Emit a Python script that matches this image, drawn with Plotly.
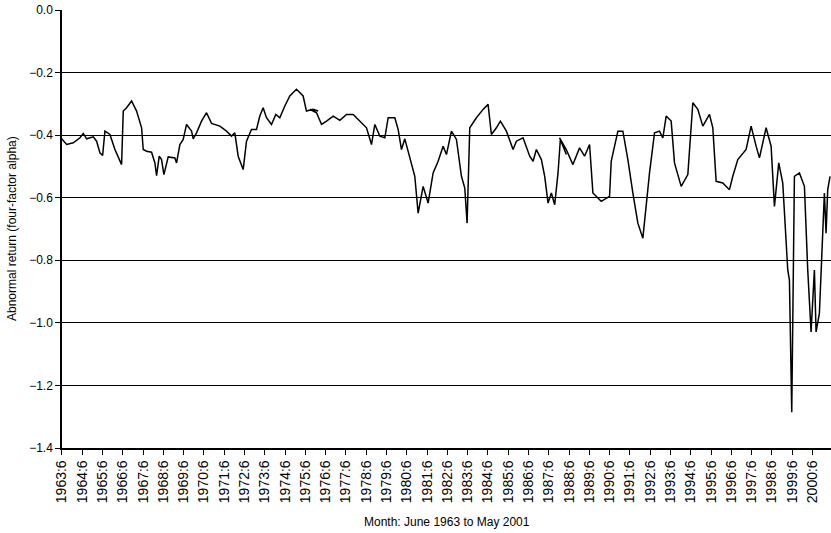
import plotly.graph_objects as go

# (pixel-read points) segment start year, x offset in zoom px, value
seg1_x = [0, 20, 40, 60, 70, 80, 100, 110, 120, 128, 135, 150, 165, 175, 185, 190, 200, 215, 230, 245,
          250, 260, 275, 285, 290, 298, 305, 312, 325, 345, 350, 360, 370, 380, 395, 400, 410, 425, 440, 455,
          480, 500, 515, 525, 535, 550, 560, 575, 590, 600, 610, 620, 635, 648, 660, 675, 690, 710, 730, 740,
          760, 775]
seg1_y = [262, 285, 280, 265, 252, 268, 262, 275, 310, 318, 245, 255, 300, 320, 345, 185, 175, 155, 185, 235,
          300, 305, 308, 340, 378, 320, 330, 375, 322, 325, 340, 285, 270, 225, 245, 268, 250, 215, 190, 222,
          230, 245, 260, 250, 320, 360, 275, 240, 240, 200, 175, 205, 225, 195, 205, 170, 140, 120, 140, 185,
          180, 185]
seg2_x = [0, 20, 35, 50, 70, 90, 110, 130, 150, 170, 185, 195, 210, 225, 235, 255, 265, 275, 285, 300,
          315, 325, 340, 355, 370, 385, 400, 410, 425, 440, 455, 465, 472, 480, 500, 520, 535, 545, 560, 572,
          590, 610, 620, 640, 660, 670, 680, 695, 705, 715, 725, 735, 745, 752, 770]
seg2_y = [180, 190, 225, 215, 200, 213, 195, 195, 215, 235, 285, 225, 260, 265, 205, 205, 240, 300, 268, 320,
          380, 490, 410, 460, 370, 335, 290, 315, 245, 270, 380, 415, 520, 235, 205, 180, 165, 255, 235, 215,
          245, 300, 275, 265, 320, 335, 300, 330, 380, 460, 430, 465, 370, 270, 315]
seg3_x = [0, 20, 40, 60, 75, 90, 100, 125, 150, 155, 175, 190, 205, 220, 235, 250, 270, 285, 300, 310,
          320, 335, 345, 365, 385, 400, 415, 430, 450, 460, 470, 490, 510, 520, 535, 560, 575, 590, 600, 620,
          635, 645, 658, 670, 685, 690, 697, 705, 720, 735, 745, 755, 765, 770, 780, 795, 800, 805, 812]
seg3_y = [265, 300, 345, 295, 320, 285, 430, 455, 440, 335, 245, 245, 330, 430, 520, 565, 370, 250, 245, 265,
          200, 215, 340, 410, 375, 160, 180, 230, 195, 235, 395, 400, 420, 380, 330, 300, 230, 290, 325, 235,
          290, 470, 340, 400, 660, 690, 1085, 380, 370, 410, 660, 845, 660, 845, 790, 430, 550, 420, 380]
seg_start = [1963.32, 1975.64, 1987.95]

years = list(range(1963, 2001))
tick_labels = [f"{y}:6" for y in years]

xs, ys = [], []
for start, sx, sy in zip(seg_start, [seg1_x, seg2_x, seg3_x], [seg1_y, seg2_y, seg3_y]):
    for a, b in zip(sx, sy):
        xs.append(start + a / 60.9)
        ys.append(-0.2 - (b - 70) / 187 * 0.2)

fig = go.Figure(go.Scatter(x=xs, y=ys, mode='lines', line=dict(color='black', width=1.5)))

fig.update_layout(
    width=831, height=533, plot_bgcolor='white', paper_bgcolor='white', showlegend=False,
    margin=dict(l=62, r=0, t=10, b=85),
    font=dict(family='Liberation Sans, Arial', size=12, color='black'),
)
fig.update_xaxes(
    range=[1963.42, 2001.33], tickvals=[y + 5 / 12 for y in years], ticktext=tick_labels,
    tickangle=-90, ticks='outside', ticklen=5, tickcolor='black', showgrid=False, automargin=False,
    showline=True, linecolor='black', linewidth=1.5,
    tickfont=dict(family='Liberation Sans Narrow, Liberation Sans', size=14),
)
fig.update_yaxes(
    range=[-1.4, 0], dtick=0.2, tickformat='.1f', showgrid=True, gridcolor='black', gridwidth=1.2,
    showline=True, linecolor='black', linewidth=1.5, ticks='outside', ticklen=5, tickcolor='black',
    zeroline=False, tickfont=dict(size=12), automargin=False,
)
fig.add_annotation(text='Month: June 1963 to May 2001', xref='paper', yref='paper', x=0.5, y=-0.169,
                   showarrow=False, font=dict(size=12), yanchor='middle')
fig.add_annotation(text='Abnormal return (four-factor alpha)', xref='paper', yref='paper', x=-0.065, y=0.5,
                   showarrow=False, textangle=-90, font=dict(size=12), xanchor='center')
# drop the default 8px page margin so the figure fills the window
fig.write_html("out.html", config={'displayModeBar': False},
               post_script="document.body.style.margin='0';document.body.style.overflow='hidden';")
